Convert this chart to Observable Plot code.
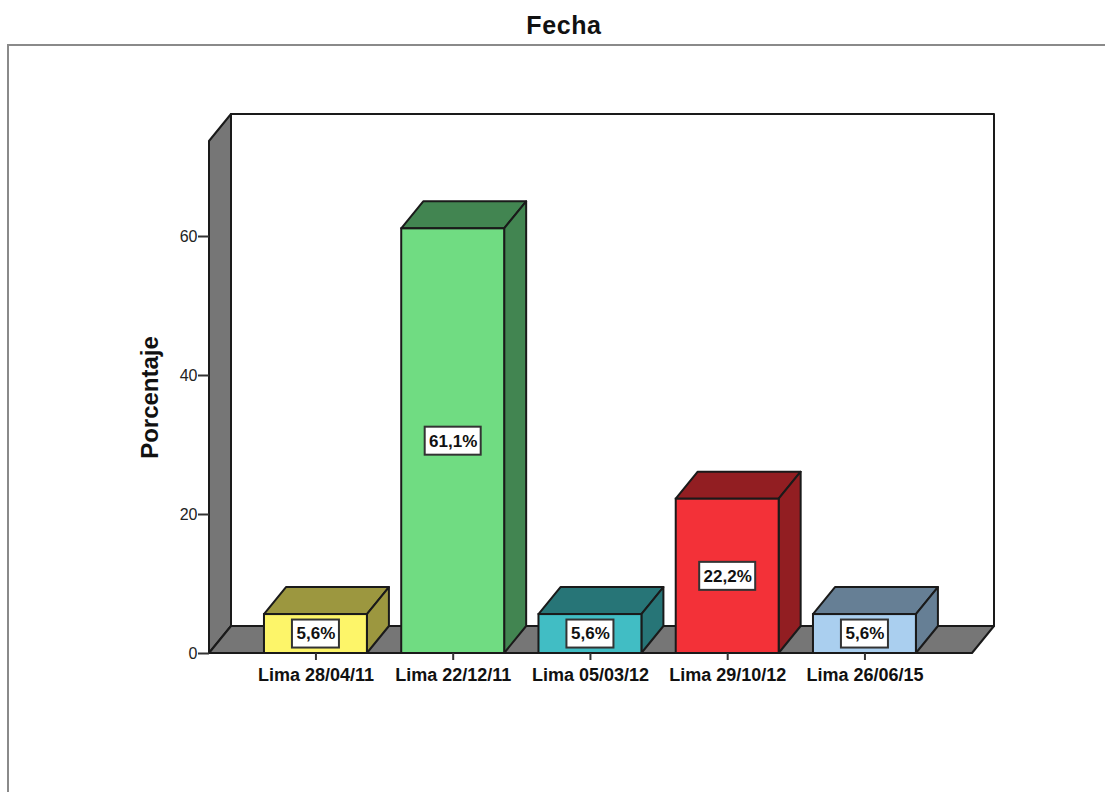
<!DOCTYPE html>
<html lang="es">
<head>
<meta charset="utf-8">
<title>Fecha</title>
<script src="https://cdn.jsdelivr.net/npm/d3@7"></script>
<script src="https://cdn.jsdelivr.net/npm/@observablehq/plot@0.6"></script>
<style>
  html, body { margin: 0; background: #fff; overflow: hidden; }
  body { width: 1105px; height: 792px; font-family: "Liberation Sans", Arial, sans-serif; }
  #titulo { height: 44px; line-height: 50px; text-align: center; font-size: 25px; letter-spacing: 0.6px; font-weight: bold; color: #111; padding-left: 23px; box-sizing: border-box; }
  #marco { margin-left: 7px; border-left: 2px solid #8a8a8a; border-top: 2px solid #8a8a8a; height: 746px; }
  #marco svg { display: block; }
</style>
</head>
<body>
<div id="titulo">Fecha</div>
<div id="marco"></div>
<script>
// Porcentaje de registros por fecha
const fechas = ["Lima 28/04/11", "Lima 22/12/11", "Lima 05/03/12", "Lima 29/10/12", "Lima 26/06/15"];
const porcentajes = [5.6, 61.1, 5.6, 22.2, 5.6];
const coloresFrente = ["#fdf569", "#70dc82", "#41bdc4", "#f33138", "#aacfef"];
const coloresSombra = ["#9c973f", "#428551", "#277577", "#921e22", "#667f95"];
const marcasY = [0, 20, 40, 60];
const techoY = 73.67;

const filas = fechas.map((fecha, i) => ({
  fecha,
  valor: porcentajes[i],
  mitad: porcentajes[i] / 2,
  etiqueta: porcentajes[i].toFixed(1).replace(".", ",") + "%",
  frente: coloresFrente[i],
  sombra: coloresSombra[i]
}));

// Desplazamiento de la perspectiva oblicua, en píxeles
const fondoX = 22;
const fondoY = 27;
const trazo = "#1a1a1a";
const gris = "#767676";

const poligono = (g, puntos, fill) =>
  g.append("polygon")
    .attr("points", puntos.map((p) => p.join(",")).join(" "))
    .attr("fill", fill)
    .attr("stroke", trazo)
    .attr("stroke-width", 2)
    .attr("stroke-linejoin", "round");

// Paredes y suelo de la caja tridimensional
function caja(index, scales, values, dims) {
  const g = d3.create("svg:g");
  const x0 = dims.marginLeft;
  const x1 = dims.width - dims.marginRight;
  const y0 = scales.y(0);
  const y1 = scales.y(techoY);
  poligono(g, [[x0 + fondoX, y1 - fondoY], [x1 + fondoX, y1 - fondoY], [x1 + fondoX, y0 - fondoY], [x0 + fondoX, y0 - fondoY]], "#fff");
  poligono(g, [[x0, y1], [x0 + fondoX, y1 - fondoY], [x0 + fondoX, y0 - fondoY], [x0, y0]], gris);
  poligono(g, [[x0, y0], [x0 + fondoX, y0 - fondoY], [x1 + fondoX, y0 - fondoY], [x1, y0]], gris);
  return g.node();
}

// Caras superior y lateral de cada barra
function caras(index, scales) {
  const g = d3.create("svg:g");
  const ancho = scales.x.bandwidth();
  for (const d of filas) {
    const a = scales.x(d.fecha);
    const b = a + ancho;
    const arriba = scales.y(d.valor);
    const abajo = scales.y(0);
    poligono(g, [[a, arriba], [a + fondoX, arriba - fondoY], [b + fondoX, arriba - fondoY], [b, arriba]], d.sombra);
    poligono(g, [[b, arriba], [b + fondoX, arriba - fondoY], [b + fondoX, abajo - fondoY], [b, abajo]], d.sombra);
  }
  return g.node();
}

// Recuadros blancos detrás de las etiquetas de valor
function recuadros(index, scales) {
  const g = d3.create("svg:g");
  const ancho = scales.x.bandwidth();
  for (const d of filas) {
    const w = 11 + 9 * d.etiqueta.length;
    g.append("rect")
      .attr("x", scales.x(d.fecha) + ancho / 2 - w / 2)
      .attr("y", scales.y(d.mitad) - 14)
      .attr("width", w)
      .attr("height", 28)
      .attr("fill", "#fff")
      .attr("stroke", "#333")
      .attr("stroke-width", 2);
  }
  return g.node();
}

const grafico = Plot.plot({
  width: 1096,
  height: 746,
  marginLeft: 200,
  marginRight: 133,
  marginTop: 95,
  marginBottom: 139,
  style: { background: "transparent", fontFamily: "'Liberation Sans', Arial, sans-serif", overflow: "visible" },
  x: { type: "band", domain: fechas, round: false, paddingInner: 0.25, paddingOuter: 0.4046, align: 0.495, label: null },
  y: { domain: [0, techoY], label: null },
  marks: [
    caja,
    Plot.axisY({ ticks: marcasY, tickSize: 11, tickPadding: 1, fontSize: 16, stroke: "#333", strokeWidth: 2, fill: "#222", label: null }),
    caras,
    Plot.barY(filas, { x: "fecha", y: "valor", fill: "frente", stroke: trazo, strokeWidth: 2 }),
    recuadros,
    Plot.text(filas, { x: "fecha", y: "mitad", text: "etiqueta", fontSize: 17, fontWeight: "bold", fill: "#111" }),
    Plot.axisX({ tickSize: 7, tickPadding: 8, fontSize: 18, fontWeight: "bold", stroke: "#333", strokeWidth: 2, fill: "#111", label: null }),
    Plot.text(["Porcentaje"], { frameAnchor: "left", textAnchor: "middle", rotate: -90, dx: -59, fontSize: 24, fontWeight: "bold", fill: "#111" })
  ]
});
document.getElementById("marco").appendChild(grafico);
</script>
</body>
</html>
